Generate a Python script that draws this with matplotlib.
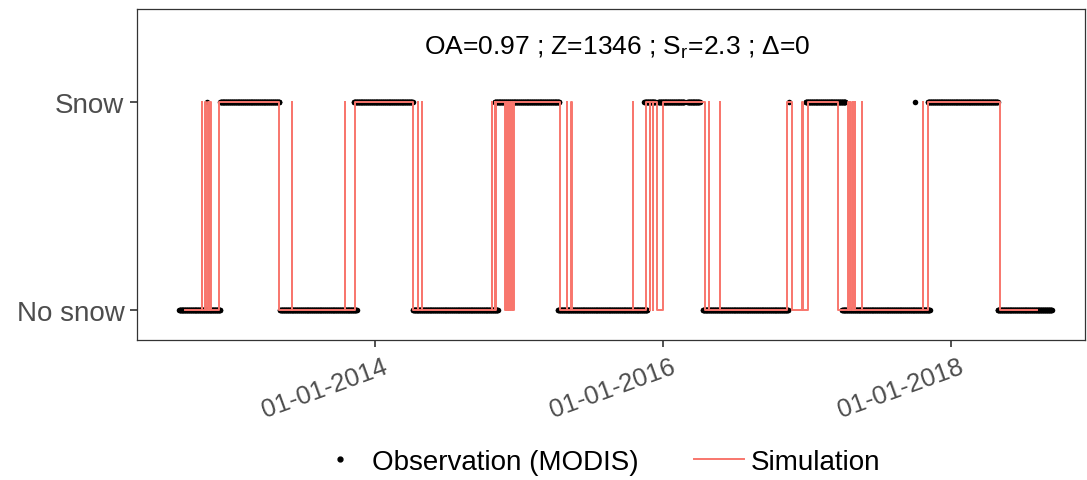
import numpy as np
import pandas as pd
import matplotlib
matplotlib.use("Agg")
import matplotlib.pyplot as plt
from matplotlib.lines import Line2D
from matplotlib.transforms import ScaledTranslation

plt.rcParams['font.family'] = ['Liberation Sans', 'DejaVu Sans']
plt.rcParams['mathtext.fontset'] = 'custom'
plt.rcParams['mathtext.rm'] = 'Liberation Sans'

# MODIS observation periods (1 = snow, 0 = no snow)
obs_start = ["2012-08-22", "2012-11-01", "2012-12-04", "2013-05-05", "2013-11-08",
             "2014-04-07", "2014-10-31", "2015-04-10", "2015-11-15", "2015-12-20",
             "2016-03-03", "2016-04-11", "2016-11-15", "2016-12-28", "2017-03-30",
             "2017-10-01", "2017-11-03", "2018-04-29"]
obs_end = ["2012-12-04", "2012-11-01", "2013-05-03", "2013-11-15", "2014-04-06",
           "2014-11-08", "2015-04-13", "2015-11-22", "2015-12-12", "2016-02-24",
           "2016-04-03", "2016-11-13", "2016-11-15", "2017-04-08", "2017-11-08",
           "2017-10-01", "2018-04-29", "2018-09-13"]
obs_state = [0, 1, 1, 0, 1, 0, 1, 0, 1, 1, 1, 0, 1, 1, 0, 1, 1, 0]

# simulated snow state, change points
sim_dates = ["2012-09-06", "2012-10-19", "2012-10-20", "2012-10-27", "2012-10-30",
             "2012-11-02", "2012-11-05", "2012-11-09", "2012-11-12", "2012-12-02",
             "2013-05-02", "2013-06-03", "2013-06-05", "2013-10-16", "2013-10-17",
             "2013-11-10", "2014-04-06", "2014-04-19", "2014-04-20", "2014-04-29",
             "2014-04-30", "2014-10-24", "2014-10-25", "2014-10-31", "2014-11-01",
             "2014-11-04", "2014-11-27", "2014-11-29", "2014-12-02", "2014-12-04",
             "2014-12-07", "2014-12-09", "2014-12-12", "2014-12-14", "2014-12-17",
             "2014-12-19", "2015-04-14", "2015-05-02", "2015-05-03", "2015-05-14",
             "2015-05-15", "2015-10-16", "2015-10-17", "2015-11-20", "2015-11-28",
             "2015-11-29", "2015-12-06", "2015-12-07", "2015-12-18", "2016-01-01",
             "2016-04-16", "2016-04-26", "2016-04-27", "2016-05-24", "2016-05-25",
             "2016-11-10", "2016-11-23", "2016-12-19", "2016-12-20", "2017-01-03",
             "2017-03-19", "2017-04-14", "2017-04-16", "2017-04-20", "2017-04-22",
             "2017-04-26", "2017-04-28", "2017-05-01", "2017-05-02", "2017-05-19",
             "2017-05-20", "2017-10-21", "2017-10-22", "2017-11-03", "2018-05-04",
             "2018-08-06"]
sim_state = [0, 1, 0, 1, 0,
             1, 0, 1, 0, 1,
             0, 1, 0, 1, 0,
             1, 0, 1, 0, 1,
             0, 1, 0, 1, 0,
             1, 0, 1, 0, 1,
             0, 1, 0, 1, 0,
             1, 0, 1, 0, 1,
             0, 1, 0, 1, 0,
             1, 0, 1, 0, 1,
             0, 1, 0, 1, 0,
             1, 0, 1, 0, 1,
             0, 1, 0, 1, 0,
             1, 0, 1, 0, 1,
             0, 1, 0, 1, 0,
             0]

y_labels = ["No snow", "Snow"]
x_ticks = ["2014-01-01", "2016-01-01", "2018-01-01"]
annot = r"OA=0.97 ; Z=1346 ; S$_\mathregular{r}$=2.3 ; Δ=0"

obs_t, obs_y = [], []
for s, e, v in zip(obs_start, obs_end, obs_state):
    d = pd.date_range(s, e, freq="D")
    obs_t.extend(d)
    obs_y.extend([v] * len(d))

fig = plt.figure(figsize=(10.87, 4.81), dpi=100)
ax = fig.add_axes([0.126, 0.291, 0.872, 0.688])

ax.scatter(obs_t, obs_y, s=16, color="black", linewidths=0, zorder=2)
ax.step(pd.to_datetime(sim_dates), sim_state, where="post", color="#F8766D", lw=1.4, zorder=3)

ax.set_xlim(pd.Timestamp("2012-05-07"), pd.Timestamp("2018-12-06"))
ax.set_ylim(-0.144, 1.447)
ax.set_yticks([0, 1])
ax.set_yticklabels(y_labels, fontsize=20, color="#4D4D4D")
xt = pd.to_datetime(x_ticks)
ax.set_xticks(xt)
ax.set_xticklabels([t.strftime("%d-%m-%Y") for t in xt], rotation=20, ha="right",
                   rotation_mode="anchor", fontsize=18.5, color="#4D4D4D")
ax.tick_params(length=5, width=1.2, color="#333333", pad=4)
ax.tick_params(axis="x", pad=5)
shift = ScaledTranslation(7 / 100, 0, fig.dpi_scale_trans)
for lab in ax.get_xticklabels():
    lab.set_transform(lab.get_transform() + shift)
for sp in ax.spines.values():
    sp.set_linewidth(0.9)
    sp.set_color("#333333")

ax.text(0.507, 0.885, annot, transform=ax.transAxes, ha="center", va="center", fontsize=19)

handles = [Line2D([], [], marker="o", ls="", color="black", markersize=3.5),
           Line2D([], [], color="#F8766D", lw=1.4)]
fig.legend(handles, ["Observation (MODIS)", "Simulation"], loc="center",
           bbox_to_anchor=(0.550, 0.038), ncol=2, frameon=False, fontsize=20,
           handlelength=1.8, handletextpad=0.25, columnspacing=2.0)

fig.savefig("out.png", dpi=100)
